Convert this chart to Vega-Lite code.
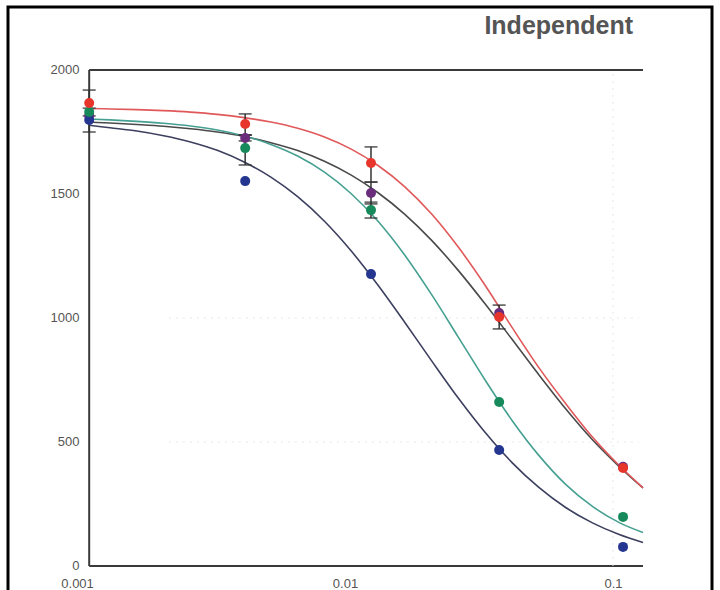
{
  "$schema": "https://vega.github.io/schema/vega-lite/v6.json",
  "width": 704,
  "height": 586,
  "autosize": {"type": "none"},
  "padding": {"left": 8, "top": 7, "right": 8, "bottom": -3},
  "background": "white",
  "config": {
    "view": {"stroke": "black", "strokeWidth": 3},
    "font": "Liberation Sans"
  },
  "title": {
    "text": "Independent",
    "anchor": "end",
    "frame": "group",
    "orient": "top",
    "offset": -52,
    "baseline": "alphabetic",
    "dx": -79,
    "fontSize": 25,
    "fontWeight": "bold",
    "color": "#555555",
    "font": "Liberation Sans"
  },
  "datasets": {
    "frame": [
      {"x1": 0.00111, "x2": 0.00111, "y1": 0, "y2": 2000},
      {"x1": 0.00111, "x2": 0.1294, "y1": 0, "y2": 0},
      {"x1": 0.00111, "x2": 0.1294, "y1": 2000, "y2": 2000}
    ],
    "grid": [
      {"x1": 0.1, "x2": 0.1, "y1": 0, "y2": 2000},
      {"x1": 0.0022, "x2": 0.125, "y1": 1000, "y2": 1000},
      {"x1": 0.0022, "x2": 0.125, "y1": 500, "y2": 500}
    ],
    "curves": [
      {"s": "purple", "x": 0.00111, "y": 1790}, {"s": "purple", "x": 0.001328, "y": 1786}, {"s": "purple", "x": 0.001672, "y": 1780}, {"s": "purple", "x": 0.002105, "y": 1773}, {"s": "purple", "x": 0.00265, "y": 1763}, {"s": "purple", "x": 0.003336, "y": 1750}, {"s": "purple", "x": 0.0042, "y": 1732}, {"s": "purple", "x": 0.005288, "y": 1707}, {"s": "purple", "x": 0.006657, "y": 1675}, {"s": "purple", "x": 0.00838, "y": 1632}, {"s": "purple", "x": 0.01055, "y": 1576}, {"s": "purple", "x": 0.01328, "y": 1505}, {"s": "purple", "x": 0.01672, "y": 1418}, {"s": "purple", "x": 0.02105, "y": 1313}, {"s": "purple", "x": 0.0265, "y": 1191}, {"s": "purple", "x": 0.03336, "y": 1056}, {"s": "purple", "x": 0.042, "y": 914}, {"s": "purple", "x": 0.05288, "y": 771}, {"s": "purple", "x": 0.06657, "y": 634}, {"s": "purple", "x": 0.0838, "y": 509}, {"s": "purple", "x": 0.1055, "y": 401}, {"s": "purple", "x": 0.1294, "y": 315},
      {"s": "blue", "x": 0.00111, "y": 1777}, {"s": "blue", "x": 0.001328, "y": 1767}, {"s": "blue", "x": 0.001672, "y": 1754}, {"s": "blue", "x": 0.002105, "y": 1735}, {"s": "blue", "x": 0.00265, "y": 1710}, {"s": "blue", "x": 0.003336, "y": 1676}, {"s": "blue", "x": 0.0042, "y": 1629}, {"s": "blue", "x": 0.005288, "y": 1568}, {"s": "blue", "x": 0.006657, "y": 1489}, {"s": "blue", "x": 0.00838, "y": 1390}, {"s": "blue", "x": 0.01055, "y": 1270}, {"s": "blue", "x": 0.01328, "y": 1132}, {"s": "blue", "x": 0.01672, "y": 982}, {"s": "blue", "x": 0.02105, "y": 827}, {"s": "blue", "x": 0.0265, "y": 676}, {"s": "blue", "x": 0.03336, "y": 538}, {"s": "blue", "x": 0.042, "y": 417}, {"s": "blue", "x": 0.05288, "y": 317}, {"s": "blue", "x": 0.06657, "y": 236}, {"s": "blue", "x": 0.0838, "y": 174}, {"s": "blue", "x": 0.1055, "y": 127}, {"s": "blue", "x": 0.1294, "y": 95},
      {"s": "green", "x": 0.00111, "y": 1802}, {"s": "green", "x": 0.001328, "y": 1799}, {"s": "green", "x": 0.001672, "y": 1793}, {"s": "green", "x": 0.002105, "y": 1785}, {"s": "green", "x": 0.00265, "y": 1774}, {"s": "green", "x": 0.003336, "y": 1758}, {"s": "green", "x": 0.0042, "y": 1734}, {"s": "green", "x": 0.005288, "y": 1700}, {"s": "green", "x": 0.006657, "y": 1653}, {"s": "green", "x": 0.00838, "y": 1588}, {"s": "green", "x": 0.01055, "y": 1501}, {"s": "green", "x": 0.01328, "y": 1390}, {"s": "green", "x": 0.01672, "y": 1253}, {"s": "green", "x": 0.02105, "y": 1094}, {"s": "green", "x": 0.0265, "y": 922}, {"s": "green", "x": 0.03336, "y": 749}, {"s": "green", "x": 0.042, "y": 587}, {"s": "green", "x": 0.05288, "y": 446}, {"s": "green", "x": 0.06657, "y": 329}, {"s": "green", "x": 0.0838, "y": 240}, {"s": "green", "x": 0.1055, "y": 175}, {"s": "green", "x": 0.1294, "y": 135},
      {"s": "red", "x": 0.00111, "y": 1845}, {"s": "red", "x": 0.001328, "y": 1843}, {"s": "red", "x": 0.001672, "y": 1840}, {"s": "red", "x": 0.002105, "y": 1836}, {"s": "red", "x": 0.00265, "y": 1830}, {"s": "red", "x": 0.003336, "y": 1821}, {"s": "red", "x": 0.0042, "y": 1808}, {"s": "red", "x": 0.005288, "y": 1790}, {"s": "red", "x": 0.006657, "y": 1765}, {"s": "red", "x": 0.00838, "y": 1730}, {"s": "red", "x": 0.01055, "y": 1681}, {"s": "red", "x": 0.01328, "y": 1615}, {"s": "red", "x": 0.01672, "y": 1529}, {"s": "red", "x": 0.02105, "y": 1419}, {"s": "red", "x": 0.0265, "y": 1285}, {"s": "red", "x": 0.03336, "y": 1131}, {"s": "red", "x": 0.042, "y": 962}, {"s": "red", "x": 0.05288, "y": 800}, {"s": "red", "x": 0.06657, "y": 655}, {"s": "red", "x": 0.0838, "y": 520}, {"s": "red", "x": 0.1055, "y": 405}, {"s": "red", "x": 0.1294, "y": 315}
    ],
    "points": [
      {"s": "purple", "x": 0.00111, "y": 1815},
      {"s": "purple", "x": 0.00424, "y": 1726, "lo": 1714, "hi": 1738},
      {"s": "purple", "x": 0.0125, "y": 1504, "lo": 1460, "hi": 1548},
      {"s": "purple", "x": 0.0376, "y": 1020},
      {"s": "purple", "x": 0.109, "y": 400},
      {"s": "blue", "x": 0.00111, "y": 1798, "lo": 1750, "hi": 1846},
      {"s": "blue", "x": 0.00424, "y": 1552},
      {"s": "blue", "x": 0.0125, "y": 1177},
      {"s": "blue", "x": 0.0376, "y": 468},
      {"s": "blue", "x": 0.109, "y": 77},
      {"s": "green", "x": 0.00111, "y": 1831},
      {"s": "green", "x": 0.00424, "y": 1685, "lo": 1617, "hi": 1738},
      {"s": "green", "x": 0.0125, "y": 1435, "lo": 1403, "hi": 1467},
      {"s": "green", "x": 0.0376, "y": 661},
      {"s": "green", "x": 0.109, "y": 198},
      {"s": "red", "x": 0.00111, "y": 1867, "lo": 1815, "hi": 1919},
      {"s": "red", "x": 0.00424, "y": 1782, "lo": 1738, "hi": 1823},
      {"s": "red", "x": 0.0125, "y": 1625, "lo": 1548, "hi": 1690},
      {"s": "red", "x": 0.0376, "y": 1004, "lo": 956, "hi": 1052},
      {"s": "red", "x": 0.109, "y": 395}
    ]
  },
  "layer": [
    {
      "data": {"name": "frame"},
      "mark": {"type": "rule", "stroke": "#3a3a3a", "strokeWidth": 2},
      "encoding": {
        "x": {"field": "x1", "type": "quantitative", "scale": {"type": "log", "domain": [0.0005525, 0.2341], "nice": false},
          "axis": {"values": [0.001, 0.01, 0.1], "format": "~g", "orient": "bottom", "offset": -21, "domain": false, "ticks": false, "grid": false, "labelPadding": 5, "labelFontSize": 13, "labelColor": "#555555", "labelFont": "Liberation Sans", "labelFlush": false, "labelOverlap": false, "title": null}},
        "x2": {"field": "x2"},
        "y": {"field": "y1", "type": "quantitative", "scale": {"domain": [-108.9, 2254], "nice": false, "zero": false},
          "axis": {"values": [0, 500, 1000, 1500, 2000], "format": "d", "orient": "left", "offset": -81, "domain": false, "ticks": false, "grid": false, "labelPadding": 10, "labelFontSize": 13, "labelColor": "#555555", "labelFont": "Liberation Sans", "labelOverlap": false, "title": null}},
        "y2": {"field": "y2"}
      }
    },
    {
      "data": {"name": "grid"},
      "mark": {"type": "rule", "stroke": "#e6e6e6", "strokeWidth": 1, "strokeDash": [2, 5]},
      "encoding": {
        "x": {"field": "x1", "type": "quantitative"},
        "x2": {"field": "x2"},
        "y": {"field": "y1", "type": "quantitative"},
        "y2": {"field": "y2"}
      }
    },
    {
      "data": {"name": "curves"},
      "mark": {"type": "line", "strokeWidth": 1.6, "interpolate": "monotone"},
      "encoding": {
        "x": {"field": "x", "type": "quantitative"},
        "y": {"field": "y", "type": "quantitative"},
        "stroke": {"field": "s", "type": "nominal", "legend": null,
          "scale": {"domain": ["purple", "blue", "green", "red"], "range": ["#4a4a4a", "#3c3f5e", "#46a092", "#e0585a"]}},
        "detail": {"field": "s"}
      }
    },
    {
      "data": {"name": "points"},
      "transform": [{"filter": "isValid(datum.lo)"}],
      "mark": {"type": "rule", "stroke": "#333333", "strokeWidth": 1.5},
      "encoding": {
        "x": {"field": "x", "type": "quantitative"},
        "y": {"field": "lo", "type": "quantitative"},
        "y2": {"field": "hi"}
      }
    },
    {
      "data": {"name": "points"},
      "transform": [{"filter": "isValid(datum.lo)"}, {"fold": ["lo", "hi"], "as": ["end", "v"]}],
      "mark": {"type": "tick", "orient": "horizontal", "size": 13, "thickness": 1.8, "color": "#333333"},
      "encoding": {
        "x": {"field": "x", "type": "quantitative"},
        "y": {"field": "v", "type": "quantitative"}
      }
    },
    {
      "data": {"name": "points"},
      "mark": {"type": "point", "shape": "circle", "filled": true, "size": 100, "opacity": 1, "strokeWidth": 0},
      "encoding": {
        "x": {"field": "x", "type": "quantitative"},
        "y": {"field": "y", "type": "quantitative"},
        "fill": {"field": "s", "type": "nominal", "legend": null,
          "scale": {"domain": ["purple", "blue", "green", "red"], "range": ["#6a2d7c", "#24368f", "#178a5c", "#e8352b"]}}
      }
    }
  ]
}
